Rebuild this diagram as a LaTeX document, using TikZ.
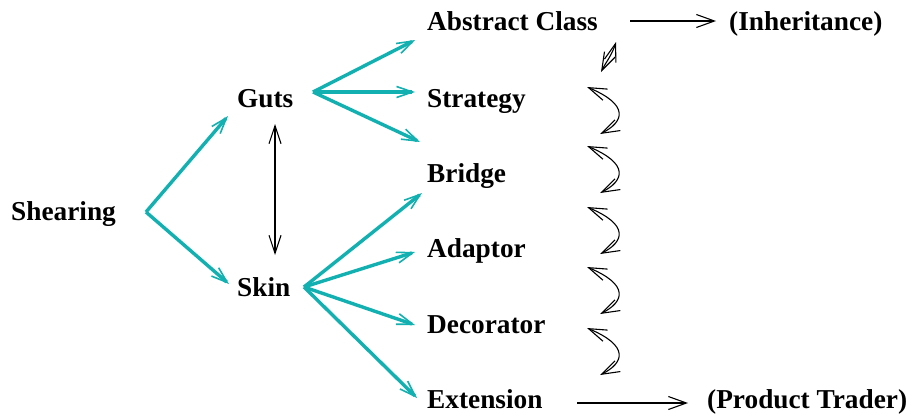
\documentclass[tikz,border=0pt]{standalone}
\usepackage{fontspec}
\setmainfont{Liberation Serif}
\usetikzlibrary{arrows.meta}
\definecolor{teal1}{RGB}{18,176,176}
\tikzset{
  lbl/.style={font=\bfseries\fontsize{27.3}{30}\selectfont, inner sep=0pt, text height=0.68em, text depth=0pt},
  tealarr/.style={draw=teal1, line width=3.4pt, -{Straight Barb[length=16pt,width=11pt,line width=1.6pt]}},
  blkarr/.style={draw=black, line width=1.1pt, -{Straight Barb[length=18pt,width=13pt,line width=1.1pt]}},
  dblarr/.style={draw=black, line width=1.1pt, {Straight Barb[length=18pt,width=12pt,line width=1.1pt]}-{Straight Barb[length=18pt,width=12pt,line width=1.1pt]}}
}
\begin{document}
\begin{tikzpicture}[x=1pt,y=-1pt]
\useasboundingbox (0,0) rectangle (912,416);
% labels
\node[lbl, anchor=west] (shear) at (11,217) {Shearing};
\node[lbl, anchor=west] (guts) at (237,104) {Guts};
\node[lbl, anchor=west] (skin) at (237,293) {Skin};
\node[lbl, anchor=west] (abs) at (427,27) {Abstract Class};
\node[lbl, anchor=west] (strat) at (427,104) {Strategy};
\node[lbl, anchor=west] (bridge) at (427,179) {Bridge};
\node[lbl, anchor=west] (adapt) at (427,254) {Adaptor};
\node[lbl, anchor=west] (deco) at (427,330) {Decorator};
\node[lbl, anchor=west] (ext) at (427,405) {Extension};
\node[lbl, anchor=west] (inh) at (729,27) {(Inheritance)};
\node[lbl, anchor=west] (pt) at (707,405) {(Product Trader)};
% junctions and tips
\coordinate (sj) at (146,212);
\coordinate (gj) at (313,92);
\coordinate (kj) at (304,287);
\coordinate (tguts) at (228,116);
\coordinate (tskin) at (229,284);
\coordinate (tabs) at (415,40);
\coordinate (tstrat) at (415,92);
\coordinate (tbridge) at (420,142);
\coordinate (tbr2) at (422,193);
\coordinate (tadapt) at (415,252);
\coordinate (tdeco) at (415,325);
\coordinate (text) at (417,398);
% teal arrows
\draw[tealarr] (sj) -- (tguts);
\draw[tealarr] (sj) -- (tskin);
\draw[tealarr] (gj) -- (tabs);
\draw[tealarr] (gj) -- (tstrat);
\draw[tealarr] (gj) -- (tbridge);
\draw[tealarr] (kj) -- (tbr2);
\draw[tealarr] (kj) -- (tadapt);
\draw[tealarr] (kj) -- (tdeco);
\draw[tealarr] (kj) -- (text);
% black arrows
\coordinate (gs1) at (275,124);
\coordinate (gs2) at (275,255);
\draw[dblarr] (gs1) -- (gs2);
\coordinate (a1) at (630,21);
\coordinate (a2) at (716,21);
\draw[blkarr] (a1) -- (a2);
\coordinate (e1) at (577,403);
\coordinate (e2) at (688,403);
\draw[blkarr] (e1) -- (e2);
% curly arrows
\coordinate (c0a) at (601,72);
\coordinate (c0b) at (616,42);
\draw[dblarr] (c0a) .. controls (606,62) and (612,55) .. (c0b);
\foreach \y/\n in {87/1,146/2,207/3,267/4,328/5}{
  \coordinate (cu\n) at (587,\y);
  \coordinate (cd\n) at (600,\y+47);
  \draw[dblarr] (cu\n) .. controls (630,\y+18) and (624,\y+35) .. (cd\n);
}
\end{tikzpicture}
\end{document}
